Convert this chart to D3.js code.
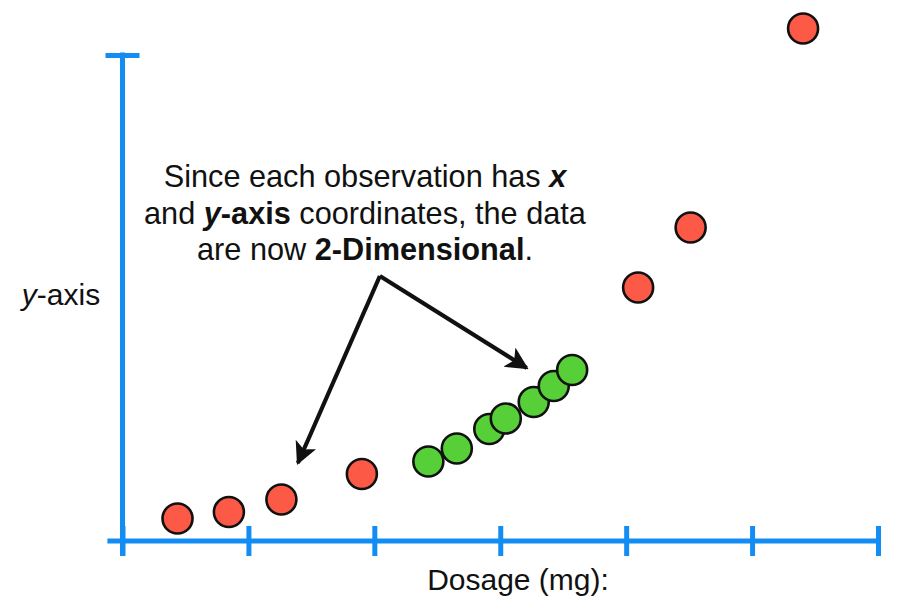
<!DOCTYPE html>
<html>
<head>
<meta charset="utf-8">
<script src="https://cdn.jsdelivr.net/npm/d3@7"></script>
<style>
  html, body { margin: 0; padding: 0; background: #fff; }
  svg { display: block; }
  text { font-family: "Liberation Sans", Arial, Helvetica, sans-serif; fill: #111; }
</style>
</head>
<body>
<svg id="chart" width="904" height="609"></svg>
<script>
// ---- data (in axis units) ----
const redX   = [0.437, 0.845, 1.262, 1.901, 4.095, 4.512, 5.405];
const redY   = [0.463, 0.597, 0.854, 1.379, 5.216, 6.451, 10.545];
const greenX = [2.429, 2.655, 2.913, 3.044, 3.266, 3.425, 3.571];
const greenY = [1.636, 1.903, 2.305, 2.521, 2.860, 3.189, 3.519];
const xTicks = [0, 1, 2, 3, 4, 5, 6];
const yTicks = [10];
const noteLines = [
  [{t: "Since each observation has ", b: false, i: false}, {t: "x", b: true, i: true}],
  [{t: "and ", b: false, i: false}, {t: "y", b: true, i: true}, {t: "-axis", b: true, i: false}, {t: " coordinates, the data", b: false, i: false}],
  [{t: "are now ", b: false, i: false}, {t: "2-Dimensional", b: true, i: false}, {t: ".", b: false, i: false}]
];
// annotation arrows: apex and the two tips (axis units)
const arrowApex = [2.044, 5.453];
const arrowTips = [[1.393, 1.605], [3.210, 3.560]];

// ---- layout ----
const svg = d3.select("#chart");
const blue = "#138cf3";
const x = d3.scaleLinear().domain([0, 6]).range([122.5, 878]);
const y = d3.scaleLinear().domain([0, 10]).range([541, 55]);

// x axis
const xAxis = d3.axisBottom(x).tickValues(xTicks).tickSize(15).tickSizeOuter(0).tickFormat("");
const gx = svg.append("g").attr("transform", `translate(0,${y(0)})`).call(xAxis);
gx.select(".domain").remove();
gx.selectAll(".tick line").attr("y1", -15).attr("y2", 15)
  .attr("stroke", blue).attr("stroke-width", 5);
gx.append("line")
  .attr("x1", x(-0.12)).attr("x2", x(6) + 2.5)
  .attr("y1", 0).attr("y2", 0)
  .attr("stroke", blue).attr("stroke-width", 5);

// y axis
const yAxis = d3.axisLeft(y).tickValues(yTicks).tickSize(17).tickSizeOuter(0).tickFormat("");
const gy = svg.append("g").attr("transform", `translate(${x(0)},0)`).call(yAxis);
gy.select(".domain").remove();
gy.selectAll(".tick line").attr("x1", 17).attr("x2", -17)
  .attr("stroke", blue).attr("stroke-width", 5);
gy.append("line")
  .attr("x1", 0).attr("x2", 0)
  .attr("y1", y(10) - 2.5).attr("y2", y(0) + 15)
  .attr("stroke", blue).attr("stroke-width", 5);

// axis labels
svg.append("text").attr("x", 518).attr("y", 590)
  .attr("text-anchor", "middle").attr("font-size", 30).text("Dosage (mg):");
const yl = svg.append("text").attr("x", 61).attr("y", 305)
  .attr("text-anchor", "middle").attr("font-size", 30);
yl.append("tspan").attr("font-style", "italic").text("y");
yl.append("tspan").text("-axis");

// points
const red = redX.map((v, i) => ({x: v, y: redY[i]}));
const green = greenX.map((v, i) => ({x: v, y: greenY[i]}));
svg.append("g").selectAll("circle").data(red).join("circle")
  .attr("cx", d => x(d.x)).attr("cy", d => y(d.y)).attr("r", 15)
  .attr("fill", "#fc5a46").attr("stroke", "#111").attr("stroke-width", 2.6);
svg.append("g").selectAll("circle").data(green).join("circle")
  .attr("cx", d => x(d.x)).attr("cy", d => y(d.y)).attr("r", 15)
  .attr("fill", "#57cf38").attr("stroke", "#111").attr("stroke-width", 2.6);

// annotation text
const noteX = 365, noteY0 = 187, lineH = 36.5;
noteLines.forEach((parts, li) => {
  const t = svg.append("text").attr("x", noteX).attr("y", noteY0 + li * lineH)
    .attr("text-anchor", "middle").attr("font-size", 30.7);
  parts.forEach(p => {
    t.append("tspan").text(p.t)
      .attr("font-weight", p.b ? "bold" : "normal")
      .attr("font-style", p.i ? "italic" : "normal");
  });
});

// arrows
const defs = svg.append("defs");
defs.append("marker").attr("id", "ah")
  .attr("viewBox", "0 0 10 10").attr("refX", 9).attr("refY", 5)
  .attr("markerWidth", 5.4).attr("markerHeight", 5.4).attr("markerUnits", "strokeWidth")
  .attr("orient", "auto")
  .append("path").attr("d", "M0,0 L10,5 L0,10 L2.5,5 Z").attr("fill", "#111");
arrowTips.forEach(tip => {
  svg.append("line")
    .attr("x1", x(arrowApex[0])).attr("y1", y(arrowApex[1]))
    .attr("x2", x(tip[0])).attr("y2", y(tip[1]))
    .attr("stroke", "#111").attr("stroke-width", 4.2)
    .attr("stroke-linejoin", "miter")
    .attr("marker-end", "url(#ah)");
});
</script>
</body>
</html>
